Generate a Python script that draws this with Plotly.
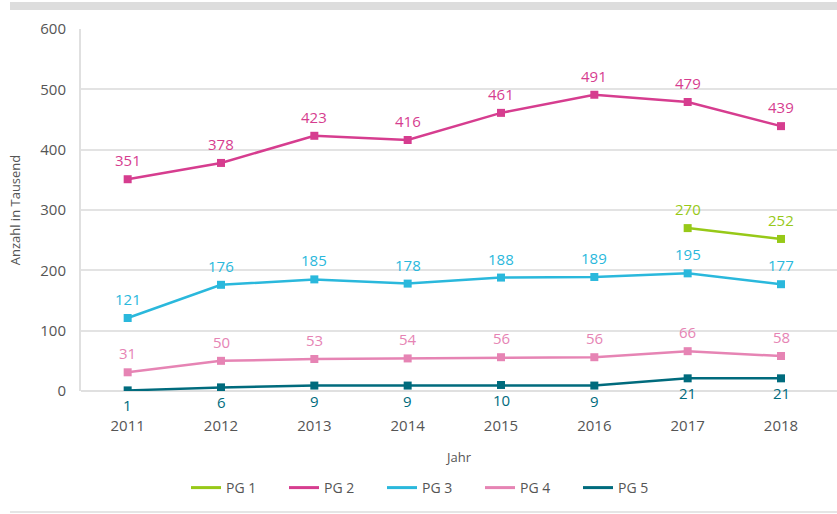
import plotly.graph_objects as go

# Jahre und Werte (Anzahl in Tausend)
years = ['2011', '2012', '2013', '2014', '2015', '2016', '2017', '2018']
pg1 = [None, None, None, None, None, None, 270, 252]
pg2 = [351, 378, 423, 416, 461, 491, 479, 439]
pg3 = [121, 176, 185, 178, 188, 189, 195, 177]
pg4 = [31, 50, 53, 54, 56, 56, 66, 58]
pg5 = [1, 6, 9, 9, 10, 9, 21, 21]

names = ['PG 1', 'PG 2', 'PG 3', 'PG 4', 'PG 5']
colors = ['#97c918', '#d63d8f', '#2ab8dc', '#e684b4', '#006b7d']
series = [pg1, pg2, pg3, pg4, pg5]

font = 'Open Sans'
fig = go.Figure()
annotations = []

for name, col, vals in zip(names, colors, series):
    fig.add_trace(go.Scatter(
        x=years, y=vals, name=name, mode='lines+markers',
        line=dict(color=col, width=2.5),
        marker=dict(symbol='square', size=8, color=col),
        showlegend=False, legendgroup=name,
    ))
    # nur Linie in der Legende
    fig.add_trace(go.Scatter(
        x=[None], y=[None], name=name, mode='lines',
        line=dict(color=col, width=3), legendgroup=name,
    ))
    below = name == 'PG 5'
    for i, v in enumerate(vals):
        if v is None:
            continue
        # Kategorie-Index statt '2011' (sonst als Zahl interpretiert)
        annotations.append(dict(
            x=i, y=v, text=str(v), showarrow=False,
            yshift=-15 if below else 19,
            font=dict(family=font, size=15, color=col),
        ))

# graue Balken oben und unten
shapes = [
    dict(type='rect', xref='paper', yref='paper',
         x0=(10 - 81) / 756, x1=1.01, y0=(391 - 10) / 362, y1=(391 - 2) / 362,
         fillcolor='#dddddd', line_width=0, layer='below'),
    dict(type='line', xref='paper', yref='paper',
         x0=(10 - 81) / 756, x1=1.01, y0=(391 - 512) / 362, y1=(391 - 512) / 362,
         line=dict(color='#dddddd', width=1.5)),
]

fig.update_layout(
    width=837, height=514,
    margin=dict(l=81, r=0, t=29, b=123),
    plot_bgcolor='white', paper_bgcolor='white',
    font=dict(family=font, size=14, color='#555555'),
    showlegend=True,
    legend=dict(orientation='h', x=(186 - 81) / 756, xanchor='left',
                y=(391 - 488) / 362, yanchor='middle',
                font=dict(size=14, color='#555555'), itemwidth=30,
                entrywidth=53, entrywidthmode='pixels',
                traceorder='normal'),
    xaxis=dict(
        type='category', range=[-0.5, 7.6],
        showgrid=False, showline=False, zeroline=False,
        ticks='', ticklabelstandoff=24,
        tickfont=dict(size=15, color='#555555'),
        title=dict(text='Jahr', font=dict(size=13, color='#555555'), standoff=18),
    ),
    yaxis=dict(
        range=[0, 600], dtick=100,
        showgrid=True, gridcolor='#e3e3e3', gridwidth=1.5,
        showline=True, linecolor='#e0e0e0', linewidth=2,
        zeroline=True, zerolinecolor='#e0e0e0', zerolinewidth=2,
        ticks='', ticklabelstandoff=10,
        tickfont=dict(size=15, color='#555555'),
        title=dict(text='Anzahl in Tausend', font=dict(size=13, color='#555555'), standoff=17),
    ),
    annotations=annotations,
    shapes=shapes,
)

fig.write_html('out.html', config={'displayModeBar': False},
               post_script="document.body.style.margin='0';")
